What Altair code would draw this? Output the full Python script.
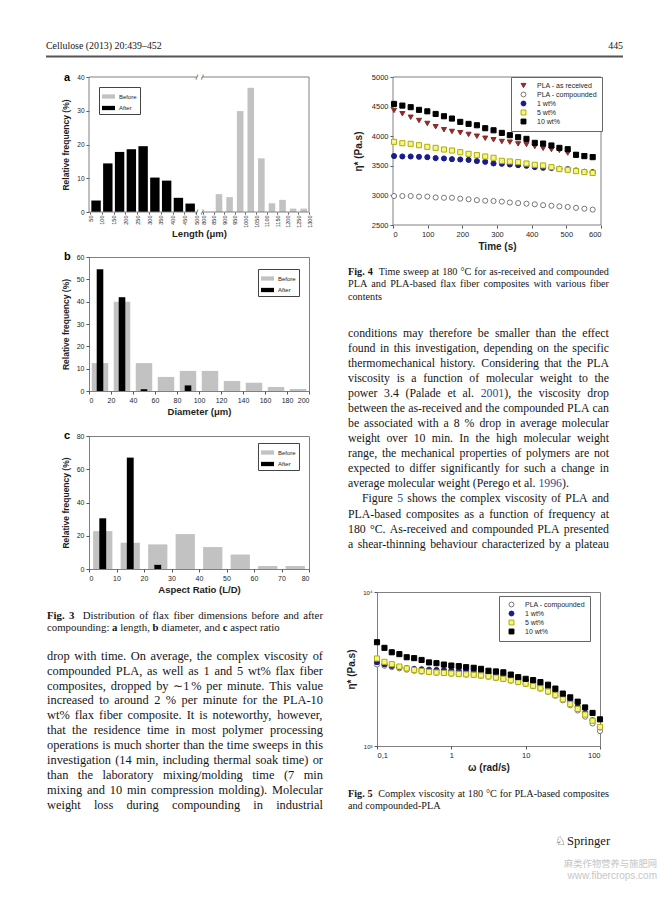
import re
import altair as alt
import pandas as pd

# ------------------------------------------------------------------ data
# Fig. 3a  fibre length (um): bin starts and relative frequency (%)
length_after_start = [50, 100, 150, 200, 250, 300, 350, 400, 450]
length_after_freq = [3.4, 14.4, 17.8, 18.6, 19.5, 10.2, 9.3, 4.2, 2.5]
length_before_start = [800, 850, 900, 950, 1000, 1050, 1100, 1150, 1200, 1250]
length_before_freq = [0.0, 5.3, 4.4, 29.9, 36.8, 15.9, 2.6, 3.6, 1.0, 1.0]
length_ticks = [50, 100, 150, 200, 250, 300, 350, 400, 450, 500,
                800, 850, 900, 950, 1000, 1050, 1100, 1150, 1200, 1250, 1300]
length_bin = 50

# Fig. 3b  diameter (um)
diam_mid = [10, 30, 50, 70, 90, 110, 130, 150, 170, 190]
diam_before = [12.5, 40.0, 12.5, 6.3, 9.0, 9.0, 4.5, 3.7, 1.8, 0.9]
diam_after = [54.5, 42.0, 0.8, 0.0, 2.5, 0.0, 0.0, 0.0, 0.0, 0.0]

# Fig. 3c  aspect ratio
ar_mid = [5, 15, 25, 35, 45, 55, 65, 75]
ar_before = [22.8, 15.8, 14.8, 21.0, 13.2, 8.7, 1.8, 1.8]
ar_after = [30.5, 67.0, 2.5, 0.0, 0.0, 0.0, 0.0, 0.0]

# Fig. 4  time sweep
f4_series = ["PLA - as received", "PLA - compounded", "1 wt%", "5 wt%", "10 wt%"]
f4_time = [3, 27, 51, 75, 99, 123, 147, 170, 194, 218, 242, 266, 290,
           314, 337, 361, 385, 409, 433, 457, 480, 504, 528, 552, 576]
f4_as_received = [4435, 4380, 4320, 4265, 4215, 4160, 4110, 4080, 4060, 4030, 4000, 3965,
                  3940, 3910, 3900, 3870, 3860, 3825, 3795, 3775, 3760, 3715, 3690, 3670, 3650]
f4_compounded = [2990, 2990, 2990, 2980, 2980, 2965, 2960, 2960, 2945, 2935, 2920, 2910,
                 2905, 2895, 2880, 2870, 2860, 2850, 2835, 2825, 2815, 2805, 2790, 2775, 2760]
f4_1wt = [3665, 3658, 3657, 3652, 3646, 3630, 3624, 3612, 3607, 3600, 3580, 3567,
          3540, 3534, 3522, 3511, 3500, 3478, 3467, 3462, 3450, 3444, 3421, 3399, 3393]
f4_5wt = [3905, 3882, 3871, 3848, 3820, 3803, 3775, 3758, 3730, 3702, 3680, 3657,
          3635, 3584, 3573, 3562, 3539, 3517, 3506, 3477, 3444, 3433, 3410, 3393, 3380]
f4_10wt = [4545, 4517, 4490, 4445, 4420, 4376, 4337, 4298, 4242, 4208, 4185, 4135,
           4100, 4056, 4017, 3983, 3955, 3888, 3876, 3843, 3803, 3781, 3685, 3663, 3646]

# Fig. 5  frequency sweep
f5_series = ["PLA - compounded", "1 wt%", "5 wt%", "10 wt%"]
f5_omega = [0.1, 0.126, 0.158, 0.2, 0.251, 0.316, 0.398, 0.501, 0.631, 0.794, 1.0,
            1.26, 1.58, 2.0, 2.51, 3.16, 3.98, 5.01, 6.31, 7.94, 10.0,
            12.6, 15.8, 20.0, 25.1, 31.6, 39.8, 50.1, 63.1, 79.4, 100.0]
f5_compounded = [3380, 3320, 3250, 3190, 3130, 3080, 3040, 3010, 2990, 2970, 2950,
                 2930, 2910, 2890, 2860, 2820, 2770, 2720, 2660, 2600, 2530,
                 2450, 2360, 2250, 2120, 1980, 1840, 1700, 1550, 1400, 1250]
f5_1wt = [3500, 3390, 3310, 3250, 3200, 3170, 3150, 3130, 3120, 3110, 3090,
          3070, 3050, 3030, 3010, 2970, 2930, 2870, 2810, 2750, 2680,
          2590, 2490, 2370, 2240, 2100, 1950, 1800, 1640, 1470, 1320]
f5_5wt = [3700, 3520, 3400, 3280, 3190, 3120, 3070, 3030, 3000, 2980, 2960,
          2940, 2920, 2900, 2870, 2830, 2780, 2730, 2670, 2610, 2540,
          2460, 2370, 2260, 2140, 2010, 1870, 1740, 1600, 1460, 1330]
f5_10wt = [4720, 4340, 4060, 3950, 3770, 3720, 3620, 3490, 3450, 3380, 3330,
           3300, 3250, 3220, 3170, 3080, 3050, 3010, 2910, 2800, 2730,
           2680, 2600, 2500, 2360, 2190, 2070, 1940, 1780, 1640, 1490]

# page text  (**bold**, {citation link})
header_left = "Cellulose (2013) 20:439–452"
header_right = "445"
fig3_caption = [
    "**Fig.** **3**  Distribution of flax fiber dimensions before and after",
    "compounding: **a** length, **b** diameter, and **c** aspect ratio",
]
left_paragraph = [
    "drop with time. On average, the complex viscosity of",
    "compounded PLA, as well as 1 and 5 wt% flax fiber",
    "composites, dropped by \u223c1 % per minute. This value",
    "increased to around 2 % per minute for the PLA-10",
    "wt% flax fiber composite. It is noteworthy, however,",
    "that the residence time in most polymer processing",
    "operations is much shorter than the time sweeps in this",
    "investigation (14 min, including thermal soak time) or",
    "than the laboratory mixing/molding time (7 min",
    "mixing and 10 min compression molding). Molecular",
    "weight loss during compounding in industrial",
]
fig4_caption = [
    "**Fig.** **4**  Time sweep at 180 °C for as-received and compounded",
    "PLA and PLA-based flax fiber composites with various fiber",
    "contents",
]
right_paragraph = [
    "conditions may therefore be smaller than the effect",
    "found in this investigation, depending on the specific",
    "thermomechanical history. Considering that the PLA",
    "viscosity is a function of molecular weight to the",
    "power 3.4 (Palade et al. {2001}), the viscosity drop",
    "between the as-received and the compounded PLA can",
    "be associated with a 8 % drop in average molecular",
    "weight over 10 min. In the high molecular weight",
    "range, the mechanical properties of polymers are not",
    "expected to differ significantly for such a change in",
    "average molecular weight (Perego et al. {1996}).",
    "Figure {5} shows the complex viscosity of PLA and",
    "PLA-based composites as a function of frequency at",
    "180 °C. As-received and compounded PLA presented",
    "a shear-thinning behaviour characterized by a plateau",
]
right_paragraph_end = 10      # last line of the first paragraph (not justified)
right_indent_line = 11        # first line of the new paragraph (indented)
fig5_caption = [
    "**Fig.** **5**  Complex viscosity at 180 °C for PLA-based composites",
    "and compounded-PLA",
]
publisher = "Springer"
watermark = ["麻类作物营养与施肥网", "www.fibercrops.com"]

# ------------------------------------------------------------------ style
SANS = "Liberation Sans"
SERIF = "Liberation Serif"
FRAME = "#808080"
INK = "#1e1e1e"
TXT = "#151515"
LINK = "#2a4b9b"
BAR_GRAY = "#c2c2c2"
DUMMY = pd.DataFrame({"k": [0]})
NOFRAME = alt.ViewBackground(stroke="transparent")
BOXED = alt.ViewBackground(stroke=FRAME, strokeWidth=1)
WIDE_RECT = "M-1,-0.33H1V0.33H-1Z"

# Times / Liberation Serif advance widths (1/1000 em) used to justify the text columns
_W = {" ": 250, "!": 333, "%": 833, "(": 333, ")": 333, ",": 250, "-": 333, ".": 250,
      "/": 278, ":": 278, ";": 278, "°": 400, "\u223c": 549, "–": 500,
      "A": 722, "B": 667, "C": 667, "D": 722, "E": 611, "F": 556, "G": 722, "H": 722,
      "I": 333, "J": 389, "K": 722, "L": 611, "M": 889, "N": 722, "O": 722, "P": 556,
      "Q": 722, "R": 667, "S": 556, "T": 611, "U": 722, "V": 722, "W": 944, "X": 722,
      "Y": 722, "Z": 611, "a": 444, "b": 500, "c": 444, "d": 500, "e": 444, "f": 333,
      "g": 500, "h": 500, "i": 278, "j": 278, "k": 500, "l": 278, "m": 778, "n": 500,
      "o": 500, "p": 500, "q": 500, "r": 333, "s": 389, "t": 278, "u": 500, "v": 500,
      "w": 722, "x": 500, "y": 500, "z": 444}
_WB = {"F": 611, "i": 278, "g": 500, ".": 250, "a": 500, "b": 556, "c": 444}


def seg_w(s, style, size):
    table = _WB if style == "b" else _W
    return sum(table.get(ch, _W.get(ch, 500)) for ch in s) * size / 1000.0


def parse(tok):
    out = []
    for b, l, n in re.findall(r"\*\*(.+?)\*\*|\{(.+?)\}|([^*{}]+)", tok):
        if b:
            out.append((b, "b"))
        elif l:
            out.append((l, "l"))
        elif n:
            out.append((n, "n"))
    return out


def layout(lines, x0, width, y0, lh, size, justify, indent=None):
    indent = indent or {}
    rows = []
    for i, line in enumerate(lines):
        toks = [parse(t) for t in line.split(" ")]
        widths = [sum(seg_w(s, st, size) for s, st in segs) for segs in toks]
        gaps = len(toks) - 1
        start = x0 + indent.get(i, 0)
        avail = width - indent.get(i, 0)
        space = 0.25 * size
        if justify[i] and gaps > 0:
            space = (avail - sum(widths)) / gaps
        x = start
        for segs, w in zip(toks, widths):
            sx = x
            for s, st in segs:
                rows.append({"t": s, "x": sx, "y": y0 + i * lh, "st": st})
                sx += seg_w(s, st, size)
            x += w + space
    return pd.DataFrame(rows)


def text_layers(df, size):
    out = []
    for st, weight, color in [("n", "normal", TXT), ("l", "normal", LINK), ("b", "bold", TXT)]:
        sub = df[df["st"] == st]
        if len(sub):
            out.append(alt.Chart(sub).mark_text(font=SERIF, fontSize=size, fontWeight=weight,
                                                color=color, align="left", baseline="alphabetic")
                       .encode(x=alt.X("x:Q", scale=None, axis=None),
                               y=alt.Y("y:Q", scale=None, axis=None), text="t:N"))
    return out


def txt(text, x, y, size, font=SERIF, weight="normal", color=TXT, align="left", angle=0):
    kw = dict(text=text, font=font, fontSize=size, fontWeight=weight, color=color,
              align=align, baseline="alphabetic")
    if angle:
        kw["angle"] = angle
    return alt.Chart(DUMMY).mark_text(**kw).encode(x=alt.value(x), y=alt.value(y))


def spacer(w, h):
    return (alt.Chart(DUMMY).mark_point(opacity=0, size=1)
            .encode(x=alt.value(1), y=alt.value(1))
            .properties(width=w, height=h, view=NOFRAME))


def axis(values, size, title, tsize, tpad, **kw):
    base = dict(values=values, labelFontSize=size, labelColor=INK, labelFont=SANS,
                tickColor="#555", tickSize=3, domain=False, grid=False, labelPadding=2,
                title=title, titleFont=SANS, titleFontSize=tsize, titleFontWeight="bold",
                titleColor=INK, titlePadding=tpad, labelOverlap=False)
    base.update(kw)
    return alt.Axis(**base)


def bar_legend(x, y):
    return alt.Legend(title=None, orient="none", legendX=x, legendY=y,
                      symbolType=WIDE_RECT, symbolSize=169, symbolStrokeWidth=0,
                      labelFont=SANS, labelFontSize=6, labelColor=INK, labelOffset=4,
                      rowPadding=1.5, padding=3, strokeColor="#444", fillColor="white")


BAR_COLOR_SCALE = alt.Scale(domain=["Before", "After"], range=[BAR_GRAY, "#000000"])

# ------------------------------------------------------------------ Fig 3a (broken axis)
BREAK_LO, BREAK_HI, GAP_AT, SQUEEZE = 500, 800, 530, 0.9
XA0, XA1 = 45, 980


def length_axis(v):
    return v if v <= BREAK_LO else GAP_AT + (v - BREAK_HI) * SQUEEZE


rows = []
for s, f in zip(length_before_start, length_before_freq):
    if f > 0:
        rows.append({"series": "Before", "lo": length_axis(s) + 8.5,
                     "hi": length_axis(s + length_bin) - 8.5, "freq": f})
for s, f in zip(length_after_start, length_after_freq):
    if f > 0:
        rows.append({"series": "After", "lo": length_axis(s) + 5,
                     "hi": length_axis(s + length_bin) - 5, "freq": f})
df_a = pd.DataFrame(rows)

xa_scale = alt.Scale(domain=[XA0, XA1], nice=False, zero=False)
ya_scale = alt.Scale(domain=[0, 40], nice=False)
label_expr_a = (f"datum.value <= {BREAK_LO} ? '' + datum.value : "
                f"'' + round((datum.value - {GAP_AT}) / {SQUEEZE} + {BREAK_HI})")
xa_axis = axis([length_axis(v) for v in length_ticks], 5.5, "Length (μm)", 9.5, 1,
               labelAngle=270, tickSize=2, labelPadding=1, labelExpr=label_expr_a)
ya_axis = axis([0, 10, 20, 30, 40], 6.5, "Relative frequency (%)", 8.5, 6, format="d")

bars_a = alt.Chart(df_a).mark_rect().encode(
    x=alt.X("lo:Q", scale=xa_scale, axis=xa_axis),
    x2="hi:Q",
    y=alt.Y("freq:Q", scale=ya_scale, axis=ya_axis),
    y2=alt.datum(0),
    color=alt.Color("series:N", scale=BAR_COLOR_SCALE, legend=bar_legend(10, 10)),
)
gap_l, gap_r = length_axis(BREAK_LO) + 3, length_axis(BREAK_HI) - 3
frame_a = pd.DataFrame({
    "x": [XA0, gap_r, XA0, gap_r, XA0, XA1],
    "x2": [gap_l, XA1, gap_l, XA1, XA0, XA1],
    "y": [40, 40, 0, 0, 0, 0],
    "y2": [40, 40, 0, 0, 40, 40],
})
rules_a = alt.Chart(frame_a).mark_rule(color=FRAME, strokeWidth=1).encode(
    x=alt.X("x:Q", scale=xa_scale, axis=xa_axis), x2="x2:Q",
    y=alt.Y("y:Q", scale=ya_scale, axis=ya_axis), y2="y2:Q")
brk = pd.DataFrame({"x": [gap_l, gap_r, gap_l, gap_r], "y": [40, 40, 0, 0]})
breaks_a = alt.Chart(brk).mark_text(text="≀", font="DejaVu Sans", fontSize=9,
                                    color="#555", angle=20).encode(
    x=alt.X("x:Q", scale=xa_scale, axis=xa_axis), y=alt.Y("y:Q", scale=ya_scale, axis=ya_axis))
chart_a = alt.layer(bars_a, rules_a, breaks_a,
                    txt("a", -25, 4, 11, font=SANS, weight="bold", color="#000")
                    ).properties(width=220, height=135, view=NOFRAME)


# ------------------------------------------------------------------ Fig 3b / 3c
def hist_panel(mid, before, after, w_before, w_after, xdom, xstep, ydom, ystep,
               xtitle, letter, leg_xy, h):
    rows = []
    for m, v in zip(mid, before):
        if v > 0:
            rows.append({"series": "Before", "lo": m - w_before / 2, "hi": m + w_before / 2, "freq": v})
    for m, v in zip(mid, after):
        if v > 0:
            rows.append({"series": "After", "lo": m - w_after / 2, "hi": m + w_after / 2, "freq": v})
    df = pd.DataFrame(rows)
    bars = alt.Chart(df).mark_rect().encode(
        x=alt.X("lo:Q", scale=alt.Scale(domain=xdom, nice=False),
                axis=axis(list(range(xdom[0], xdom[1] + 1, xstep)), 7, xtitle, 9.5, 3, format="d")),
        x2="hi:Q",
        y=alt.Y("freq:Q", scale=alt.Scale(domain=ydom, nice=False),
                axis=axis(list(range(ydom[0], ydom[1] + 1, ystep)), 7,
                          "Relative frequency (%)", 8.5, 6, format="d")),
        y2=alt.datum(0),
        color=alt.Color("series:N", scale=BAR_COLOR_SCALE, legend=bar_legend(*leg_xy)),
    )
    return alt.layer(bars, txt(letter, -25, 3, 11, font=SANS, weight="bold", color="#000")
                     ).properties(width=220, height=h, view=BOXED)


chart_b = hist_panel(diam_mid, diam_before, diam_after, 15, 6, [0, 200], 20, [0, 60], 10,
                     "Diameter (μm)", "b", (169, 12), 134)
chart_c = hist_panel(ar_mid, ar_before, ar_after, 7, 2.5, [0, 80], 10, [0, 80], 20,
                     "Aspect Ratio (L/D)", "c", (169, 7), 133)

# ------------------------------------------------------------------ Fig 4
rows = []
for name, vals in zip(f4_series, [f4_as_received, f4_compounded, f4_1wt, f4_5wt, f4_10wt]):
    for t, v in zip(f4_time, vals):
        rows.append({"series": name, "time": t, "eta": v})
df4 = pd.DataFrame(rows)

f4_shapes = ["triangle-down", "circle", "circle", "square", "square"]
f4_fill = ["#8e2a2a", "#ffffff", "#1b1b8c", "#f4f48a", "#000000"]
f4_stroke = ["#8e2a2a", "#777777", "#1b1b8c", "#b0ad00", "#000000"]


def pt_legend(x, y):
    return alt.Legend(title=None, orient="none", legendX=x, legendY=y, padding=5,
                      labelFont=SANS, labelFontSize=7, labelColor=INK, labelOffset=10,
                      symbolOffset=4, rowPadding=0, symbolSize=24, symbolStrokeWidth=1,
                      strokeColor="#666", fillColor="white")


F4_SHIFT = 16          # the Fig. 4 plot starts 16 px right of the column edge
F4_W, F4_H = 208, 148
T0, T1, E0, E1 = 0, 600, 2500, 5000
xs4 = alt.Scale(domain=[T0, T1], range=[F4_SHIFT, F4_SHIFT + F4_W], nice=False)
ys4 = alt.Scale(domain=[E0, E1], nice=False, zero=False)
xa4 = axis(list(range(0, 601, 100)), 7.5, "Time (s)", 10, 4, format="d")
ya4 = axis(list(range(2500, 5001, 500)), 7.5, "η* (Pa.s)", 10, 8, offset=-F4_SHIFT, format="d")
leg4 = pt_legend(F4_SHIFT + 118, 0)
frame4 = pd.DataFrame({"x": [T0, T0, T0, T1], "x2": [T1, T1, T0, T1],
                       "y": [E0, E1, E0, E0], "y2": [E0, E1, E1, E1]})
rules4 = alt.Chart(frame4).mark_rule(color=FRAME, strokeWidth=1).encode(
    x=alt.X("x:Q", scale=xs4, axis=xa4), x2="x2:Q",
    y=alt.Y("y:Q", scale=ys4, axis=ya4), y2="y2:Q")
pts4 = alt.Chart(df4).mark_point(filled=True, opacity=1, size=26, strokeWidth=1).encode(
    x=alt.X("time:Q", scale=xs4, axis=xa4),
    y=alt.Y("eta:Q", scale=ys4, axis=ya4),
    shape=alt.Shape("series:N", scale=alt.Scale(domain=f4_series, range=f4_shapes), legend=leg4),
    fill=alt.Fill("series:N", scale=alt.Scale(domain=f4_series, range=f4_fill), legend=leg4),
    stroke=alt.Stroke("series:N", scale=alt.Scale(domain=f4_series, range=f4_stroke), legend=leg4),
)
fig4 = alt.layer(rules4, pts4).properties(width=F4_SHIFT + F4_W, height=F4_H, view=NOFRAME)

# ------------------------------------------------------------------ Fig 5
rows = []
for name, vals in zip(f5_series, [f5_compounded, f5_1wt, f5_5wt, f5_10wt]):
    for w, v in zip(f5_omega, vals):
        rows.append({"series": name, "omega": w, "eta": v})
df5 = pd.DataFrame(rows)
leg5 = pt_legend(122, 4)
fig5 = alt.Chart(df5).mark_point(filled=True, opacity=1, size=26, strokeWidth=1).encode(
    x=alt.X("omega:Q", scale=alt.Scale(type="log", domain=[0.1, 100], nice=False),
            axis=axis([0.1, 1, 10, 100], 7.5, "ω (rad/s)", 10, 4,
                      labelExpr="datum.value < 0.5 ? '0,1' : format(datum.value, 'd')")),
    y=alt.Y("eta:Q", scale=alt.Scale(type="log", domain=[1000, 10000], nice=False),
            axis=axis([1000, 10000], 6, "η* (Pa.s)", 10, 6,
                      labelExpr="datum.value > 5000 ? '10⁴' : '10³'")),
    shape=alt.Shape("series:N", scale=alt.Scale(domain=f5_series, range=f4_shapes[1:]), legend=leg5),
    fill=alt.Fill("series:N", scale=alt.Scale(domain=f5_series, range=f4_fill[1:]), legend=leg5),
    stroke=alt.Stroke("series:N", scale=alt.Scale(domain=f5_series, range=f4_stroke[1:]), legend=leg5),
).properties(width=223, height=154, view=BOXED)

# ------------------------------------------------------------------ text panels
CAP_L, CAP_R = 10.8, 10.2
BODY_L, BODY_R = 12.4, 11.8
LX, LW = -42, 276        # left column: page x 46..322 (cell starts at page x 88)
RX, RW = -29, 261        # right column: page x 347..608 (cell starts at page x 376)


def last_only(n):
    return [True] * (n - 1) + [False]


# header cell: column 0 (80 px wide), text runs across the page
header = alt.layer(
    txt(header_left, 37, 39.5, 9.9),
    txt(header_right, 614, 39.5, 9.9, align="right"),
    alt.Chart(DUMMY).mark_rule(color="#555", strokeWidth=2.2).encode(
        x=alt.value(37), x2=alt.value(614), y=alt.value(47.5)),
).properties(width=80, height=68, view=NOFRAME)

# text3 cell: column 1, row starting at page y 568
text3 = alt.layer(
    *text_layers(layout(fig3_caption, LX, LW, 50, 12, CAP_L, last_only(len(fig3_caption))), CAP_L),
    *text_layers(layout(left_paragraph, LX, LW, 90.7, 14.9, BODY_L,
                        [True] * len(left_paragraph)), BODY_L),
).properties(width=220, height=23, view=NOFRAME)

# text4 cell: column 3, row starting at page y 224
just_r = [i != right_paragraph_end for i in range(len(right_paragraph))]
text4 = alt.layer(
    *text_layers(layout(fig4_caption, RX, RW, 50, 12.4, CAP_R, last_only(len(fig4_caption))), CAP_R),
    *text_layers(layout(right_paragraph, RX, RW, 111.7, 15.07, BODY_R, just_r,
                        indent={right_indent_line: 14}), BODY_R),
).properties(width=224, height=32, view=NOFRAME)

# text5 cell: column 3, row starting at page y 745
text5 = alt.layer(
    *text_layers(layout(fig5_caption, RX, RW, 51, 12, CAP_R, last_only(len(fig5_caption))), CAP_R),
    txt("♘", 178, 99, 12, font="DejaVu Sans", color="#333"),
    txt(publisher, 190, 99, 12.5),
    txt(watermark[0], 280, 121, 9.3, font="Noto Sans CJK SC", color="#c6c6c6", align="right"),
    txt(watermark[1], 280, 133, 10, font=SANS, color="#c6c6c6", align="right"),
).properties(width=224, height=136, view=NOFRAME)

# ------------------------------------------------------------------ layout grid (4 columns)
S = spacer
cells = [
    header,     S(1, 1),   S(1, 1),  S(1, 1),
    S(80, 1),   chart_a,   S(68, 1), fig4,
    S(1, 1),    S(1, 32),  S(1, 1),  text4,
    S(1, 1),    chart_b,   S(1, 1),  S(1, 1),
    S(1, 1),    S(1, 45),  S(1, 1),  S(1, 1),
    S(1, 1),    chart_c,   S(1, 1),  S(1, 1),
    S(1, 1),    text3,     S(1, 1),  S(1, 1),
    S(1, 1),    S(1, 1),   S(1, 1),  fig5,
    S(1, 1),    S(1, 1),   S(1, 1),  text5,
]
chart = alt.concat(*cells, columns=4, spacing=0, bounds="flush", align="each").resolve_scale(
    color="independent", fill="independent", stroke="independent", shape="independent",
    x="independent", y="independent").properties(padding=0)
chart = chart.configure_view(stroke="transparent").configure(font=SANS)

chart.save("out.html", embed_options={"renderer": "svg", "actions": False})
